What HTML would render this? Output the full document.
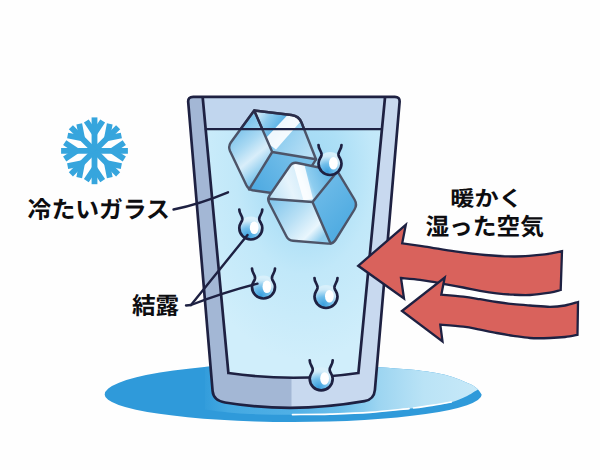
<!DOCTYPE html>
<html lang="ja">
<head>
<meta charset="utf-8">
<title>結露のしくみ</title>
<style>
  html, body { margin: 0; padding: 0; background: #fefefe; }
  body { width: 600px; height: 470px; overflow: hidden; position: relative;
         font-family: "Liberation Sans", "Noto Sans CJK JP", sans-serif; }
  svg { position: absolute; left: 0; top: 0; display: block; }
  .lbl { text-rendering: geometricPrecision; font-family: "Liberation Sans", "Noto Sans CJK JP", sans-serif; font-weight: 700; fill: #0d0d10; }
</style>
</head>
<body>
<svg width="600" height="470" viewBox="0 0 600 470">
  <defs>
    <linearGradient id="gPuddle" gradientUnits="userSpaceOnUse" x1="200" y1="0" x2="480" y2="0">
      <stop offset="0" stop-color="#2f9ada"/>
      <stop offset="0.1" stop-color="#44a9e2"/>
      <stop offset="0.33" stop-color="#50b0e6"/>
      <stop offset="0.5" stop-color="#6cbfeb"/>
      <stop offset="0.64" stop-color="#9dd5f1"/>
      <stop offset="0.8" stop-color="#bae3f6"/>
      <stop offset="1" stop-color="#c8e9f8"/>
    </linearGradient>
    <radialGradient id="gWater" gradientUnits="userSpaceOnUse" cx="305" cy="170" r="190" gradientTransform="translate(305 170) scale(0.66 1) translate(-305 -170)">
      <stop offset="0" stop-color="#9fd8f3"/>
      <stop offset="0.3" stop-color="#addff6"/>
      <stop offset="0.55" stop-color="#c1e8f9"/>
      <stop offset="1" stop-color="#d0eefb"/>
    </radialGradient>
    <radialGradient id="gDrop" cx="0.38" cy="0.86" r="0.78">
      <stop offset="0" stop-color="#3a9fde"/>
      <stop offset="0.45" stop-color="#72bfeb"/>
      <stop offset="0.85" stop-color="#cfebf9"/>
      <stop offset="1" stop-color="#d8f0fb"/>
    </radialGradient>
    <linearGradient id="gIceTop1" gradientUnits="userSpaceOnUse" x1="254" y1="112" x2="312" y2="150">
      <stop offset="0" stop-color="#e8f5fc"/>
      <stop offset="0.22" stop-color="#8ccbee"/>
      <stop offset="0.42" stop-color="#5bb1e4"/>
      <stop offset="0.52" stop-color="#8ecdef"/>
      <stop offset="1" stop-color="#b8dff5"/>
    </linearGradient>
    <linearGradient id="gIceLeft1" gradientUnits="userSpaceOnUse" x1="232" y1="135" x2="268" y2="178">
      <stop offset="0" stop-color="#7fc4eb"/>
      <stop offset="0.3" stop-color="#a9d9f3"/>
      <stop offset="0.55" stop-color="#d9eefa"/>
      <stop offset="0.8" stop-color="#93cfef"/>
      <stop offset="1" stop-color="#5fb4e5"/>
    </linearGradient>
    <linearGradient id="gIceBot1" gradientUnits="userSpaceOnUse" x1="255" y1="190" x2="305" y2="155">
      <stop offset="0" stop-color="#4faae1"/>
      <stop offset="1" stop-color="#7cc3eb"/>
    </linearGradient>
    <linearGradient id="gIceTop2" gradientUnits="userSpaceOnUse" x1="272" y1="196" x2="335" y2="172">
      <stop offset="0" stop-color="#c3e5f7"/>
      <stop offset="0.3" stop-color="#e6f4fc"/>
      <stop offset="0.5" stop-color="#d5edfa"/>
      <stop offset="0.62" stop-color="#8ecdef"/>
      <stop offset="1" stop-color="#55aee3"/>
    </linearGradient>
    <linearGradient id="gIceLeft2" gradientUnits="userSpaceOnUse" x1="275" y1="200" x2="318" y2="242">
      <stop offset="0" stop-color="#86c8ed"/>
      <stop offset="0.45" stop-color="#b9e0f5"/>
      <stop offset="0.8" stop-color="#e9f6fd"/>
      <stop offset="1" stop-color="#8fcdee"/>
    </linearGradient>
    <linearGradient id="gIceRight2" gradientUnits="userSpaceOnUse" x1="318" y1="195" x2="350" y2="225">
      <stop offset="0" stop-color="#6ab9e7"/>
      <stop offset="1" stop-color="#4fabe1"/>
    </linearGradient>
    <clipPath id="aboveWater"><rect x="200" y="90" width="200" height="39.2"/></clipPath>
    <clipPath id="puddleClip">
      <path d="M 104.7,394.5 A 188.5 31 0 0 1 293,363.5 C 300.8,363.7 325.7,364.2 340.0,364.8 C 354.3,365.4 367.3,366.4 379.0,367.2 C 390.7,368.0 401.5,368.7 410.0,369.5 C 418.5,370.3 423.3,370.9 430.0,372.0 C 436.7,373.1 443.3,374.2 450.0,376.2 C 456.7,378.2 465.3,381.8 470.0,384.0 C 474.7,386.2 476.1,387.7 478.0,389.5 C 479.9,391.3 481.1,393.9 481.7,394.8 A 188.5 27.3 0 0 1 104.7,394.5 Z"/>
    </clipPath>
    <g id="drop">
      <circle cx="0" cy="1.5" r="11.5" fill="url(#gDrop)"/>
      <ellipse cx="3.4" cy="1.2" rx="4.4" ry="6.3" fill="#ffffff"/>
      <path d="M -11.5,-17 C -11.5,-12 -8,-11 -8.5,-7 C -9,-4 -11.5,-3 -11.5,1.5 A 11.5 11.5 0 0 0 11.5,1.5 C 11.5,-3 9,-4 8.5,-7 C 8,-11 11.5,-12 11.5,-17"
            fill="none" stroke="#1e2142" stroke-width="2.7" stroke-linecap="round" stroke-linejoin="round"/>
    </g>
    <path id="glassOuter" d="M 193.2,96.8 L 394.8,96.8 Q 400,96.8 399.6,102 L 374.9,390 Q 374,399.5 364.5,401.2 Q 293,413.8 225,402.5 Q 213.4,400.5 212.6,391 L 188.2,102 Q 187.8,96.8 193.2,96.8 Z"/>
    <path id="cube1" d="M 254.2,110.5 L 291.5,115 Q 299,116 301.5,122.5 L 316,159.3 L 293,196 L 252.5,190.3 Q 248.5,189.5 246.5,185.5 L 230,151 Q 228,146.5 230.8,142.5 Z"/>
    <path id="cube1in" d="M 254.2,110.5 L 272.2,152 L 316,159.3 M 272.2,152 L 249,189.5"/>
    <path id="cube2" d="M 289.5,166.5 Q 292.3,162 297.5,163 L 337.5,171.3 L 354.5,199.5 Q 357.5,204.5 354.5,209.5 L 335.5,240 Q 333,244 328,243.6 L 293,240.8 Q 288.5,240.5 286.5,236.5 L 269,202.5 Q 267.3,199 269.5,195.5 Z"/>
    <path id="cube2in" d="M 268.3,198.7 L 312.5,202 L 337.5,171.3 M 312.5,202 L 330.5,243.5"/>
  </defs>

  <rect x="0" y="0" width="600" height="470" fill="#fefefe"/>

  <!-- puddle -->
  <path d="M 104.7,394.5 A 188.5 31 0 0 1 293,363.5 C 300.8,363.7 325.7,364.2 340.0,364.8 C 354.3,365.4 367.3,366.4 379.0,367.2 C 390.7,368.0 401.5,368.7 410.0,369.5 C 418.5,370.3 423.3,370.9 430.0,372.0 C 436.7,373.1 443.3,374.2 450.0,376.2 C 456.7,378.2 465.3,381.8 470.0,384.0 C 474.7,386.2 476.1,387.7 478.0,389.5 C 479.9,391.3 481.1,393.9 481.7,394.8 A 188.5 27.3 0 0 1 104.7,394.5 Z" fill="#2f9ada"/>
  <g clip-path="url(#puddleClip)">
    <path d="M 205,355 L 480,355 L 480,388 L 476.8,390.3 C 475.0,391.3 470.2,394.5 466.0,396.5 C 461.8,398.5 457.0,400.7 451.3,402.2 C 445.6,403.7 439.1,404.5 432.0,405.6 C 424.9,406.7 419.3,407.6 409.0,408.7 C 398.7,409.8 383.2,411.6 370.0,412.5 C 356.8,413.4 342.9,413.8 330.0,414.2 C 317.1,414.6 305.8,414.7 292.5,414.7 C 279.2,414.7 262.9,414.5 250.0,414.0 C 237.1,413.5 220.8,411.9 205.0,409.5 Z" fill="url(#gPuddle)"/>
  </g>
  <path d="M 292.5,414.6 C 298.8,414.5 317.1,414.5 330.0,414.1 C 342.9,413.7 356.8,413.3 370.0,412.4 C 383.2,411.5 402.5,409.2 409.0,408.6" fill="none" stroke="#ffffff" stroke-width="1.7" stroke-linecap="round"/>
  <path d="M 413.5,408.0 C 416.6,407.6 425.7,406.4 432.0,405.4 C 438.3,404.4 448.1,402.6 451.3,402.0" fill="none" stroke="#ffffff" stroke-width="1.7" stroke-linecap="round"/>

  <!-- glass body -->
  <use href="#glassOuter" fill="#a3b7d5"/>
  <path d="M 291.5,96.8 L 394.8,96.8 Q 400,96.8 399.6,102 L 374.9,390 Q 374,399.5 364.5,401.2 Q 328,407.6 291.5,407.8 Z" fill="#c8d9ef"/>
  <!-- interior: air -->
  <path d="M 202.7,97.5 L 385,97.5 L 382,129.2 L 205.7,129.2 Z" fill="#c1d6ee"/>
  <!-- interior: water -->
  <path d="M 205.7,129.2 L 382,129.2 L 358.4,373 Q 293.5,382.5 228.4,373 Z" fill="url(#gWater)"/>

  <!-- ice cube 1 -->
  <path d="M 254.2,110.5 L 291.5,115 Q 299,116 301.5,122.5 L 316,159.3 L 272.2,152 Z" fill="url(#gIceTop1)"/>
  <path d="M 254.2,110.5 L 272.2,152 L 249,189.5 Q 247.3,187.5 246.5,185.5 L 230,151 Q 228,146.5 230.8,142.5 Z" fill="url(#gIceLeft1)"/>
  <path d="M 272.2,152 L 316,159.3 L 293,196 L 252.5,190.3 Q 250.2,190 249,189.5 Z" fill="url(#gIceBot1)"/>
  <path d="M 288,114.6 L 296,115.8 Q 299.5,117 301,121 L 276,149.5 L 270.5,145.5 L 266.5,137.5 Z" fill="#ffffff" opacity="0.9"/>
  <g fill="none" stroke="#4d5468" stroke-width="2.4" stroke-linejoin="round" stroke-linecap="round">
    <use href="#cube1"/><use href="#cube1in"/>
  </g>
  <g fill="none" stroke="#2a2d4a" stroke-width="2.4" stroke-linejoin="round" stroke-linecap="round" clip-path="url(#aboveWater)">
    <use href="#cube1"/><use href="#cube1in"/>
  </g>

  <!-- ice cube 2 -->
  <path d="M 289.5,166.5 Q 292.3,162 297.5,163 L 337.5,171.3 L 312.5,202 L 268.3,198.7 Q 268.2,197 269.5,195.5 Z" fill="url(#gIceTop2)"/>
  <path d="M 337.5,171.3 L 354.5,199.5 Q 357.5,204.5 354.5,209.5 L 335.5,240 Q 333.5,243 330.5,243.5 L 312.5,202 Z" fill="url(#gIceRight2)"/>
  <path d="M 268.3,198.7 L 312.5,202 L 330.5,243.5 Q 329,243.8 328,243.6 L 293,240.8 Q 288.5,240.5 286.5,236.5 L 269,202.5 Q 268.2,200.5 268.3,198.7 Z" fill="url(#gIceLeft2)"/>
  <path d="M 293,163.5 L 304.5,165 L 313,199 L 303.5,200.5 Z" fill="#ffffff" opacity="0.85"/>
  <g fill="none" stroke="#4d5468" stroke-width="2.4" stroke-linejoin="round" stroke-linecap="round">
    <use href="#cube2"/><use href="#cube2in"/>
  </g>

  <!-- glass lines -->
  <g fill="none" stroke="#1e2142" stroke-width="2.7" stroke-linejoin="round" stroke-linecap="round">
    <use href="#glassOuter"/>
    <path d="M 202.7,97.5 L 228.4,373 Q 293.5,382.5 358.4,373 L 385,97.5" stroke-linejoin="miter"/>
    <path d="M 205.7,129.2 L 382,129.2" stroke-width="2.2"/>
  </g>

  <!-- drops -->
  <use href="#drop" x="330" y="162"/>
  <use href="#drop" x="250.8" y="226.5"/>
  <use href="#drop" x="263.5" y="285.5"/>
  <use href="#drop" x="326" y="295"/>
  <use href="#drop" x="321.2" y="377.3"/>

  <!-- leader lines -->
  <g fill="none" stroke="#1e2142" stroke-width="2.4" stroke-linecap="round">
    <path d="M 173.5,209.5 Q 200,204 228,192.3"/>
    <path d="M 191,305 L 247.5,235"/>
    <path d="M 186,305.5 L 191,305 Q 225,292 257.5,283.7"/>
  </g>

  <!-- arrows -->
  <g fill="#d9625c" stroke="#1e2142" stroke-width="2.3" stroke-linejoin="miter">
    <path d="M 358.2,265.8 L 405.8,224.8 L 402.2,243.4 C 406.0,243.9 416.2,245.3 425.0,246.6 C 433.8,247.9 445.0,250.0 455.0,251.4 C 465.0,252.8 475.0,254.2 485.0,255.0 C 495.0,255.8 505.0,256.6 515.0,256.5 C 525.0,256.4 537.2,255.3 545.0,254.4 C 552.8,253.5 559.2,251.7 562.0,251.2 L 560.7,290 C 558.9,290.4 555.1,291.9 550.0,292.7 C 544.9,293.5 536.1,294.7 530.0,295.0 C 523.9,295.3 518.8,295.0 513.3,294.7 C 507.7,294.4 502.2,293.9 496.7,293.3 C 491.1,292.7 485.6,291.8 480.0,290.8 C 474.4,289.8 469.2,288.6 463.3,287.5 C 457.4,286.4 449.5,285.1 444.7,284.2 C 439.9,283.3 438.7,282.9 434.6,282.2 C 430.5,281.5 425.6,280.5 420.0,279.8 C 414.4,279.1 404.2,278.3 401.0,278.0 L 404,298.5 Z"/>
    <path d="M 402,311 L 444.7,277.5 L 441.3,294.7 C 445.0,295.0 456.9,295.9 463.3,296.7 C 469.8,297.4 474.4,298.3 480.0,299.2 C 485.6,300.1 491.1,301.2 496.7,302.0 C 502.2,302.8 507.7,303.6 513.3,304.2 C 518.8,304.8 523.9,305.1 530.0,305.5 C 536.1,305.9 544.2,306.8 550.0,306.8 C 555.8,306.8 560.3,306.3 565.0,305.5 C 569.7,304.7 575.8,302.6 578.0,302.0 L 577.5,334.8 C 575.4,335.2 569.6,336.5 565.0,337.0 C 560.4,337.5 555.8,337.8 550.0,338.0 C 544.2,338.2 536.1,338.4 530.0,338.0 C 523.9,337.6 518.8,336.6 513.3,335.8 C 507.7,335.0 502.2,334.0 496.7,333.0 C 491.1,332.0 485.6,330.8 480.0,329.7 C 474.4,328.6 469.9,327.5 463.3,326.7 C 456.7,325.9 444.1,325.0 440.3,324.7 L 442.5,341.5 Z"/>
  </g>

  <!-- snowflake -->
  <g stroke="#36a5dd" stroke-width="5.8" stroke-linecap="butt" fill="none" transform="translate(94.5,150.8)">
    <g id="arm">
      <path d="M 0,0 L 0,-33.4"/>
      <path d="M -8.2,-29.8 L 0,-17.6 L 8.2,-29.8" stroke-linejoin="miter"/>
    </g>
    <use href="#arm" transform="rotate(45)"/>
    <use href="#arm" transform="rotate(90)"/>
    <use href="#arm" transform="rotate(135)"/>
    <use href="#arm" transform="rotate(180)"/>
    <use href="#arm" transform="rotate(225)"/>
    <use href="#arm" transform="rotate(270)"/>
    <use href="#arm" transform="rotate(315)"/>
  </g>

  <!-- labels -->
  <text class="lbl" x="27.6" y="218" font-size="23.8">冷たいガラス</text>
  <text class="lbl" x="132" y="314" font-size="23.6">結露</text>
  <text class="lbl" transform="translate(450.2,205.6) scale(1.1,0.97)" font-size="22">暖かく</text>
  <text class="lbl" x="425.4" y="234.8" font-size="23.7">湿った空気</text>
</svg>
</body>
</html>
